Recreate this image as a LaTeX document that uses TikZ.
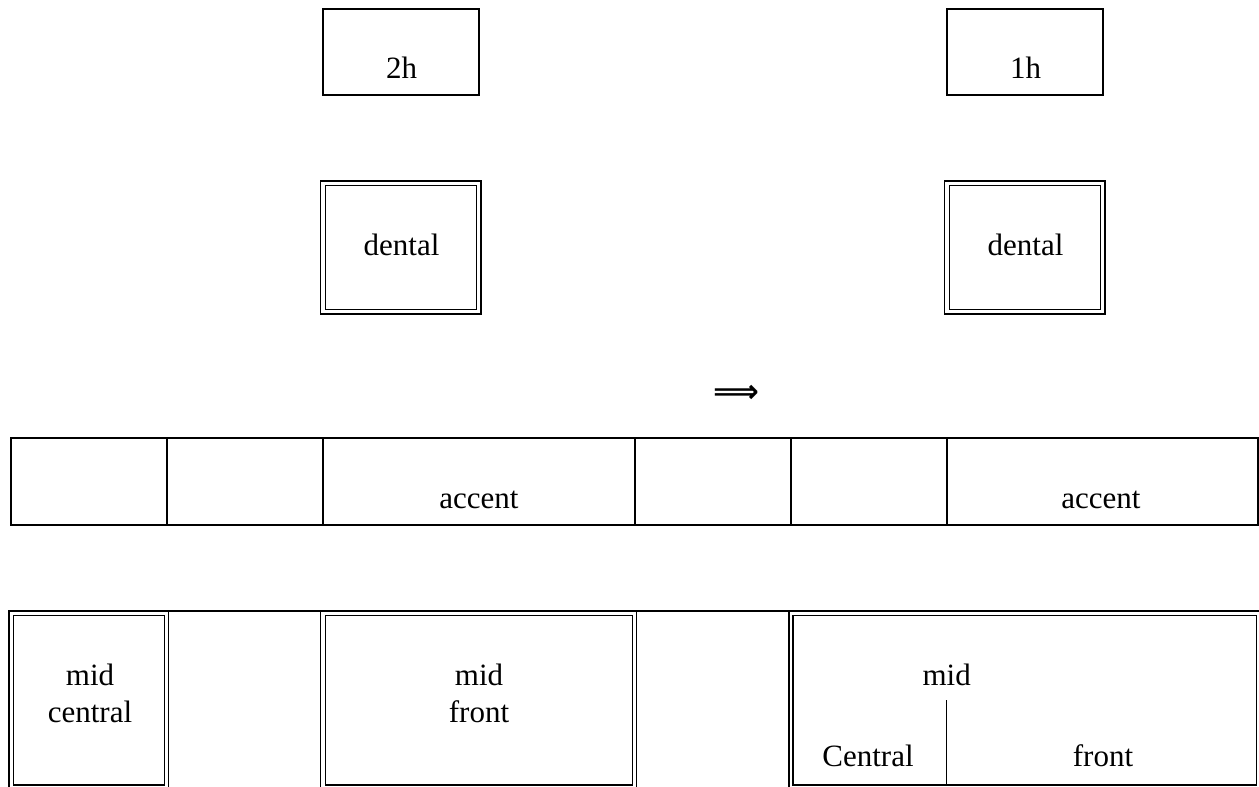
\documentclass[tikz,border=0pt]{standalone}
\usepackage{fontspec}
\setmainfont{Liberation Serif}
\newfontfamily\arrowfont{DejaVu Sans}
\begin{document}
\begin{tikzpicture}[x=1pt,y=-1pt,
  thick line/.style={line width=1.6pt},
  dbl line/.style={line width=1.3pt},
  lbl/.style={inner sep=0pt,anchor=base,font=\fontsize{31}{37}\selectfont},
  lbl2/.style={inner sep=0pt,anchor=base,align=center,font=\fontsize{31}{37.7}\selectfont}]
\useasboundingbox (0,0) rectangle (1259,787);
% top single boxes
\draw[thick line] (322.7,9) rectangle (479,95);
\draw[thick line] (946.7,9) rectangle (1103,95);
\node[lbl] (h2) at (401.5,78) {2h};
\node[lbl] (h1) at (1025.5,78) {1h};
% dental double boxes
\draw[dbl line] (320.8,181) rectangle (481,314);
\draw[dbl line] (325.2,185.2) rectangle (476.7,309.8);
\draw[dbl line] (944.8,181) rectangle (1105,314);
\draw[dbl line] (949.2,185.2) rectangle (1100.7,309.8);
\node[lbl] (dentalL) at (401.5,255) {dental};
\node[lbl] (dentalR) at (1025.5,255) {dental};
% implication arrow
\node[inner sep=0pt,font=\arrowfont\bfseries\fontsize{32}{36}\selectfont] (impl) at (736,394) {⟹};
% accent row
\draw[thick line] (10.7,437.7) rectangle (1257.7,524.7);
\foreach \x in {166.7,322.7,635,791,946.7}
  \draw[thick line] (\x,437.7) -- (\x,524.7);
\node[lbl] (accL) at (479,508) {accent};
\node[lbl] (accR) at (1101,508) {accent};
% bottom row: outer frame lines
\draw[dbl line] (9,787) -- (9,611) -- (1262,611);
\foreach \x in {168.8,320.8,636.8,789}
  \draw[dbl line] (\x,611) -- (\x,787);
% inner rectangles
\draw[dbl line] (13.3,615.2) rectangle (164.8,785);
\draw[dbl line] (325.2,615.2) rectangle (632.6,785);
\draw[dbl line] (793,615.2) rectangle (1256.7,785);
% labels
\node[lbl2] (midc) at (90,722.7) {mid\\central};
\node[lbl2] (midf) at (479,722.7) {mid\\front};
\node[lbl] (midR) at (946.7,685) {mid};
\coordinate (divtop) at (946.7,700);
\coordinate (divbot) at (946.7,785);
\draw[dbl line] (divtop) -- (divbot);
\node[lbl] (centR) at (868,766.7) {Central};
\node[lbl] (frontR) at (1103,766.7) {front};
\end{tikzpicture}
\end{document}
